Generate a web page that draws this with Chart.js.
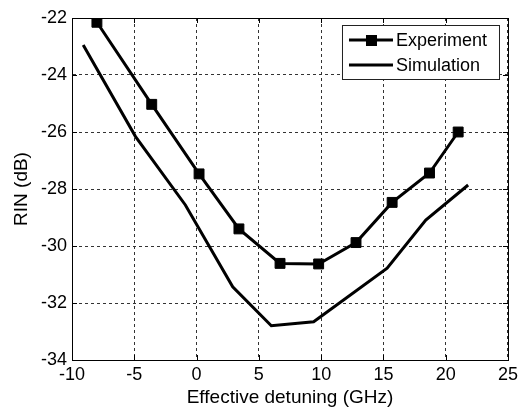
<!DOCTYPE html>
<html>
<head>
<meta charset="utf-8">
<script src="https://cdn.jsdelivr.net/npm/chart.js@4/dist/chart.umd.min.js"></script>
<style>
  html, body { margin: 0; padding: 0; background: #fff; }
  #wrap { width: 522px; height: 410px; }
</style>
</head>
<body>
<div id="wrap"><canvas id="chart"></canvas></div>
<script>
// ── Data ─────────────────────────────────────────────────────────────────────
const expDetuning = [-8.0, -3.6, 0.2, 3.4, 6.7, 9.8, 12.8, 15.7, 18.7, 21.0];
const expRin      = [-22.15, -25.03, -27.47, -29.4, -30.61, -30.63, -29.88, -28.47, -27.44, -26.0];

const simDetuning = [-9.1, -4.9, -0.9, 2.9, 6.0, 9.4, 15.3, 18.4, 21.8];
const simRin      = [-22.95, -26.16, -28.56, -31.43, -32.8, -32.66, -30.78, -29.09, -27.86];

const seriesNames = ["Experiment", "Simulation"];

const FONT = "'Liberation Sans', Arial, Helvetica, sans-serif";

function toPoints(xs, ys) {
  return xs.map((x, i) => ({ x, y: ys[i] }));
}

// Box round the plot area plus MATLAB-style inward ticks
const frame = {
  id: "frame",
  afterDraw(chart) {
    const { ctx, chartArea: a, scales } = chart;
    ctx.save();
    ctx.strokeStyle = "#000";
    ctx.lineWidth = 1;
    ctx.strokeRect(a.left + 0.5, a.top + 0.5, a.right - a.left, a.bottom - a.top);
    ctx.beginPath();
    scales.x.ticks.forEach(t => {
      const px = Math.round(scales.x.getPixelForValue(t.value)) + 0.5;
      ctx.moveTo(px, a.bottom); ctx.lineTo(px, a.bottom - 5);
      ctx.moveTo(px, a.top); ctx.lineTo(px, a.top + 5);
    });
    scales.y.ticks.forEach(t => {
      const py = Math.round(scales.y.getPixelForValue(t.value)) + 0.5;
      ctx.moveTo(a.left, py); ctx.lineTo(a.left + 5, py);
      ctx.moveTo(a.right, py); ctx.lineTo(a.right - 5, py);
    });
    ctx.stroke();
    ctx.restore();
  }
};

// Legend box sitting in the top-right corner of the plot
const insideLegend = {
  id: "insideLegend",
  afterDraw(chart) {
    const { ctx, chartArea: a } = chart;
    const box = { x: a.right - 166, y: a.top + 7, w: 157, h: 54 };
    ctx.save();
    ctx.fillStyle = "#fff";
    ctx.fillRect(box.x, box.y, box.w, box.h);
    ctx.strokeStyle = "#222";
    ctx.lineWidth = 1;
    ctx.strokeRect(box.x + 0.5, box.y + 0.5, box.w, box.h);

    const rows = [box.y + 15, box.y + 40];
    ctx.font = "18px " + FONT;
    ctx.textBaseline = "middle";
    seriesNames.forEach((name, i) => {
      const y = rows[i];
      ctx.strokeStyle = "#000";
      ctx.lineWidth = 3;
      ctx.beginPath();
      ctx.moveTo(box.x + 7, y);
      ctx.lineTo(box.x + 51, y);
      ctx.stroke();
      if (i === 0) {
        ctx.fillStyle = "#000";
        ctx.fillRect(box.x + 24, y - 5, 11, 11);
      }
      ctx.fillStyle = "#000";
      ctx.fillText(name, box.x + 54, y + 1);
    });
    ctx.restore();
  }
};

new Chart(document.getElementById("chart"), {
  type: "scatter",
  data: {
    datasets: [
      {
        label: seriesNames[0],
        data: toPoints(expDetuning, expRin),
        showLine: true,
        borderColor: "#000",
        backgroundColor: "#000",
        borderWidth: 3,
        pointStyle: "rect",
        pointRadius: 7,
        pointBorderWidth: 1,
        tension: 0,
      },
      {
        label: seriesNames[1],
        data: toPoints(simDetuning, simRin),
        showLine: true,
        borderColor: "#000",
        borderWidth: 3,
        pointRadius: 0,
        tension: 0,
      },
    ],
  },
  options: {
    responsive: true,
    maintainAspectRatio: false,
    animation: false,
    layout: { padding: { left: 0, top: 18, right: 13, bottom: 0 } },
    plugins: { legend: { display: false }, tooltip: { enabled: false } },
    scales: {
      x: {
        type: "linear",
        min: -10, max: 25,
        afterFit: s => { s.height = 50; },
        ticks: { stepSize: 5, color: "#000", padding: 4, font: { family: FONT, size: 18 } },
        grid: { color: "#333", drawTicks: false, lineWidth: 1 },
        border: { display: true, color: "#000", dash: [3, 3] },
        title: {
          display: true, text: "Effective detuning (GHz)", color: "#000",
          font: { family: FONT, size: 19 }, padding: { top: 0, bottom: 1 },
        },
      },
      y: {
        type: "linear",
        min: -34, max: -22,
        afterFit: s => { s.width = 72; },
        ticks: { stepSize: 2, color: "#000", padding: 5, font: { family: FONT, size: 18 } },
        grid: { color: "#333", drawTicks: false, lineWidth: 1 },
        border: { display: true, color: "#000", dash: [3, 3] },
        title: {
          display: true, text: "RIN (dB)", color: "#000",
          font: { family: FONT, size: 19 }, padding: { top: 10, bottom: 0 },
        },
      },
    },
  },
  plugins: [frame, insideLegend],
});
</script>
</body>
</html>
